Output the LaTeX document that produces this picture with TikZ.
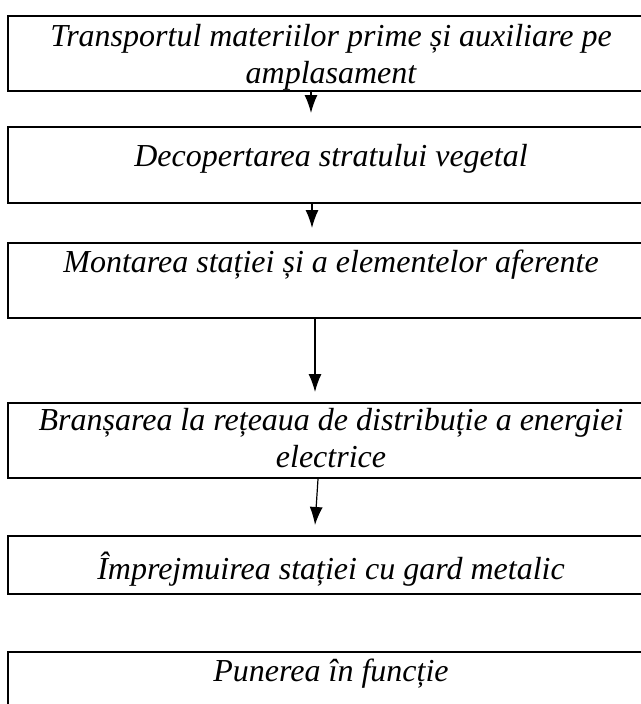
\documentclass[tikz,border=0pt]{standalone}
\usepackage{fontspec}
\setmainfont{Liberation Serif}
\usetikzlibrary{arrows.meta,positioning}

\begin{document}
\begin{tikzpicture}[x=1pt,y=-1pt]
\tikzstyle{every node}=[font=\fontsize{32}{37}\selectfont\itshape]
\tikzstyle{box}=[draw=black, line width=2pt, rectangle, minimum width=653pt,
anchor=north west, inner sep=0pt]
\tikzstyle{txt}=[anchor=base, align=center, inner sep=0pt]
\tikzstyle{arr}=[-{Latex[length=18pt,width=13pt]}, line width=1.2pt]

\useasboundingbox (0,0) rectangle (640,704);

% the boxes
\node[box, minimum height=75pt] at (7,15) (b1) {};
\node[box, minimum height=76pt] at (7,126) (b2) {};
\node[box, minimum height=75pt] at (7,242) (b3) {};
\node[box, minimum height=75pt] at (7,402) (b4) {};
\node[box, minimum height=58pt] at (7,535) (b5) {};
\node[box, minimum height=90pt] at (7,651) (b6) {};

% the texts (base = last line)
\node[txt] at (331,83) (t1) {Transportul materiilor prime și auxiliare pe\\amplasament};
\node[txt] at (331,166) (t2) {Decopertarea stratului vegetal};
\node[txt] at (331,272) (t3) {Montarea stației și a elementelor aferente};
\node[txt] at (331,467) (t4) {Branșarea la rețeaua de distribuție a energiei\\electrice};
\node[txt] at (331,579) (t5) {Împrejmuirea stației cu gard metalic};
\node[txt] at (331,681) (t6) {Punerea în funcție};

% arrows
\coordinate (a1) at (311,113);
\coordinate (a2) at (312,228);
\coordinate (a3) at (315,392);
\coordinate (a4) at (315,525);
\draw[arr] (b1.south -| a1) -- (a1);
\draw[arr] (b2.south -| a2) -- (a2);
\draw[arr] (b3.south -| a3) -- (a3);
\draw[arr] ([xshift=3pt]b4.south -| a4) -- (a4);

\end{tikzpicture}
\end{document}
